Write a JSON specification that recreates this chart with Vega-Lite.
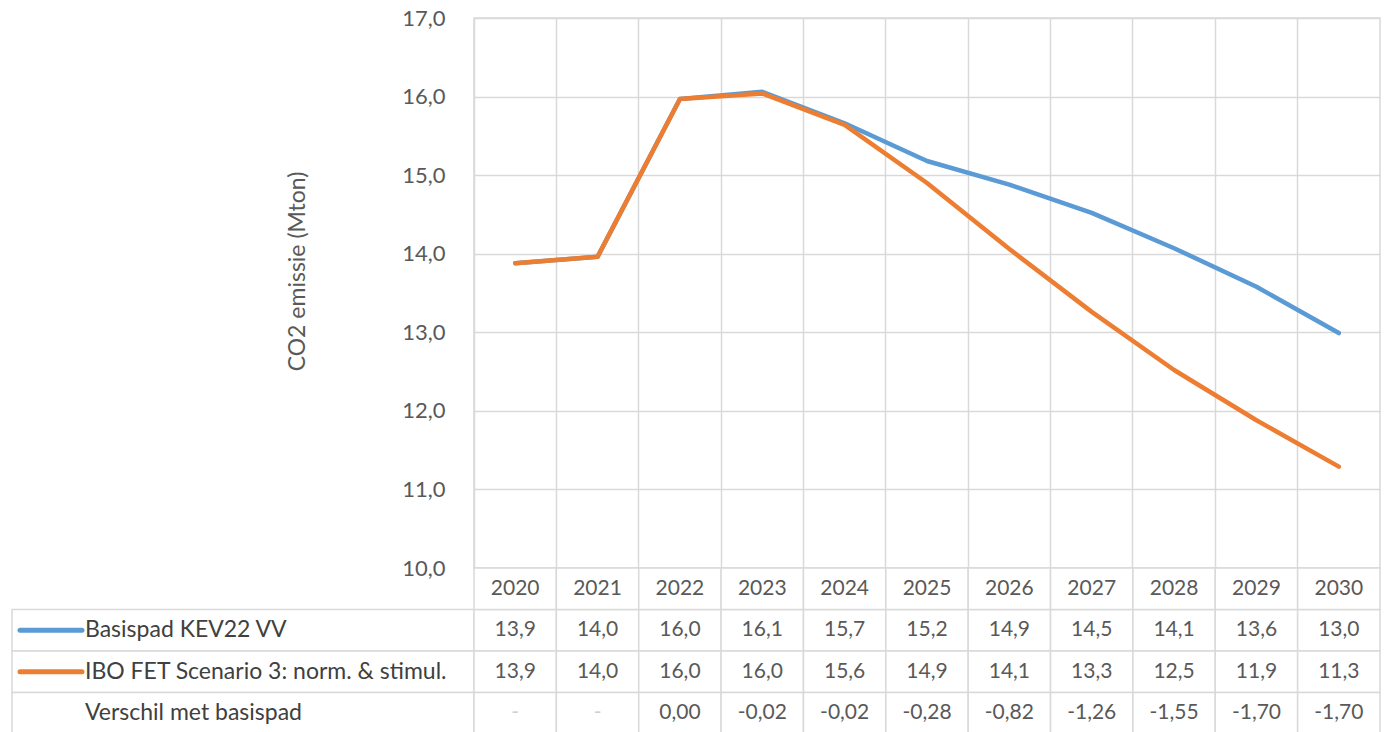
{
  "$schema": "https://vega.github.io/schema/vega-lite/v6.json",
  "padding": {"left": 10, "top": 6, "right": 0, "bottom": 0},
  "background": "white",
  "bounds": "flush",
  "spacing": 0,
  "columns": 2,
  "datasets": {
    "emissions": [
      {"year": "2020", "row": "Basispad KEV22 VV", "value": 13.88},
      {"year": "2021", "row": "Basispad KEV22 VV", "value": 13.96},
      {"year": "2022", "row": "Basispad KEV22 VV", "value": 15.97},
      {"year": "2023", "row": "Basispad KEV22 VV", "value": 16.06},
      {"year": "2024", "row": "Basispad KEV22 VV", "value": 15.66},
      {"year": "2025", "row": "Basispad KEV22 VV", "value": 15.18},
      {"year": "2026", "row": "Basispad KEV22 VV", "value": 14.88},
      {"year": "2027", "row": "Basispad KEV22 VV", "value": 14.52},
      {"year": "2028", "row": "Basispad KEV22 VV", "value": 14.07},
      {"year": "2029", "row": "Basispad KEV22 VV", "value": 13.58},
      {"year": "2030", "row": "Basispad KEV22 VV", "value": 12.99},
      {"year": "2020", "row": "IBO FET Scenario 3: norm. & stimul.", "value": 13.88},
      {"year": "2021", "row": "IBO FET Scenario 3: norm. & stimul.", "value": 13.96},
      {"year": "2022", "row": "IBO FET Scenario 3: norm. & stimul.", "value": 15.97},
      {"year": "2023", "row": "IBO FET Scenario 3: norm. & stimul.", "value": 16.04},
      {"year": "2024", "row": "IBO FET Scenario 3: norm. & stimul.", "value": 15.64},
      {"year": "2025", "row": "IBO FET Scenario 3: norm. & stimul.", "value": 14.90},
      {"year": "2026", "row": "IBO FET Scenario 3: norm. & stimul.", "value": 14.06},
      {"year": "2027", "row": "IBO FET Scenario 3: norm. & stimul.", "value": 13.26},
      {"year": "2028", "row": "IBO FET Scenario 3: norm. & stimul.", "value": 12.52},
      {"year": "2029", "row": "IBO FET Scenario 3: norm. & stimul.", "value": 11.88},
      {"year": "2030", "row": "IBO FET Scenario 3: norm. & stimul.", "value": 11.29},
      {"year": "2020", "row": "Verschil met basispad", "value": null},
      {"year": "2021", "row": "Verschil met basispad", "value": null},
      {"year": "2022", "row": "Verschil met basispad", "value": 0.00},
      {"year": "2023", "row": "Verschil met basispad", "value": -0.02},
      {"year": "2024", "row": "Verschil met basispad", "value": -0.02},
      {"year": "2025", "row": "Verschil met basispad", "value": -0.28},
      {"year": "2026", "row": "Verschil met basispad", "value": -0.82},
      {"year": "2027", "row": "Verschil met basispad", "value": -1.26},
      {"year": "2028", "row": "Verschil met basispad", "value": -1.55},
      {"year": "2029", "row": "Verschil met basispad", "value": -1.70},
      {"year": "2030", "row": "Verschil met basispad", "value": -1.70}
    ]
  },
  "concat": [
    {
      "width": 462,
      "height": 550,
      "data": {"values": [{}]},
      "mark": {"type": "text", "text": " "},
      "encoding": {}
    },
    {
      "width": 906,
      "height": 550,
      "view": {"stroke": "#d9d9d9", "strokeWidth": 1.5},
      "data": {"name": "emissions"},
      "transform": [{"filter": "datum.row != 'Verschil met basispad'"}],
      "mark": {"type": "line", "strokeWidth": 4.5, "strokeJoin": "round", "strokeCap": "round"},
      "encoding": {
        "x": {
          "field": "year", "type": "ordinal", "bandPosition": 0.5,
          "scale": {"type": "band", "paddingInner": 0, "paddingOuter": 0},
          "axis": {"labels": false, "ticks": false, "domain": false, "title": null, "grid": true, "bandPosition": 0, "gridColor": "#d9d9d9", "gridWidth": 1.5}
        },
        "y": {
          "field": "value", "type": "quantitative",
          "scale": {"domain": [10, 17], "zero": false, "nice": false},
          "axis": {
            "values": [10, 11, 12, 13, 14, 15, 16, 17],
            "format": ".1f",
            "grid": true, "gridColor": "#d9d9d9", "gridWidth": 1.5,
            "domain": false, "ticks": false,
            "labelPadding": 29, "labelFontSize": 22, "labelColor": "#595959", "labelFont": "Lato",
            "title": "CO2 emissie (Mton)",
            "titleFont": "Lato", "titleFontSize": 23, "titleFontWeight": "normal", "titleColor": "#595959",
            "titleAngle": 270, "titleAlign": "center", "titleBaseline": "middle",
            "titleX": -177, "titleY": 253
          }
        },
        "color": {
          "field": "row", "type": "nominal",
          "scale": {"domain": ["Basispad KEV22 VV", "IBO FET Scenario 3: norm. & stimul."], "range": ["#5b9bd5", "#ed7d31"]},
          "legend": null
        }
      }
    },
    {
      "width": 462,
      "height": 166,
      "data": {"name": "emissions"},
      "transform": [{"filter": "datum.year == '2020'"}],
      "encoding": {
        "y": {
          "field": "row", "type": "nominal",
          "scale": {"domain": ["Jaar", "Basispad KEV22 VV", "IBO FET Scenario 3: norm. & stimul.", "Verschil met basispad"], "paddingInner": 0, "paddingOuter": 0},
          "axis": null
        }
      },
      "layer": [
        {"mark": {"type": "rect", "fill": "white", "stroke": "#d9d9d9", "strokeWidth": 1.5}},
        {
          "transform": [{"filter": "datum.row != 'Verschil met basispad'"}],
          "mark": {"type": "point", "shape": "M-1,0L1,0", "size": 3844, "strokeWidth": 5, "strokeCap": "round", "filled": false, "opacity": 1},
          "encoding": {
            "x": {"datum": "symbol", "type": "nominal", "scale": {"type": "point", "domain": ["symbol", "label"], "range": [39, 73], "padding": 0}, "axis": null},
            "color": {
              "field": "row", "type": "nominal",
              "scale": {"domain": ["Basispad KEV22 VV", "IBO FET Scenario 3: norm. & stimul."], "range": ["#5b9bd5", "#ed7d31"]},
              "legend": null
            }
          }
        },
        {
          "mark": {"type": "text", "align": "left", "baseline": "middle", "font": "Lato", "fontSize": 23, "color": "#404040"},
          "encoding": {
            "x": {"datum": "label", "type": "nominal"},
            "text": {"field": "row", "type": "nominal"}
          }
        }
      ]
    },
    {
      "width": 906,
      "height": 166,
      "data": {"name": "emissions"},
      "encoding": {
        "x": {"field": "year", "type": "ordinal", "scale": {"type": "band", "paddingInner": 0, "paddingOuter": 0}, "axis": null},
        "y": {
          "field": "row", "type": "nominal",
          "scale": {"domain": ["Jaar", "Basispad KEV22 VV", "IBO FET Scenario 3: norm. & stimul.", "Verschil met basispad"], "paddingInner": 0, "paddingOuter": 0},
          "axis": null
        }
      },
      "layer": [
        {"mark": {"type": "rect", "fill": "white", "stroke": "#d9d9d9", "strokeWidth": 1.5}},
        {
          "transform": [{"filter": "datum.row == 'Basispad KEV22 VV'"}],
          "mark": {"type": "rect", "fill": "white", "stroke": "#d9d9d9", "strokeWidth": 1.5},
          "encoding": {"y": {"datum": "Jaar", "type": "nominal"}}
        },
        {
          "transform": [{"filter": "datum.row == 'Basispad KEV22 VV'"}],
          "mark": {"type": "text", "font": "Lato", "fontSize": 21, "color": "#595959"},
          "encoding": {"y": {"datum": "Jaar", "type": "nominal"}, "text": {"field": "year", "type": "nominal"}}
        },
        {
          "transform": [{"filter": "datum.row != 'Verschil met basispad'"}],
          "mark": {"type": "text", "font": "Lato", "fontSize": 21, "color": "#595959"},
          "encoding": {"text": {"field": "value", "type": "quantitative", "format": ".1f"}}
        },
        {
          "transform": [{"filter": "datum.row == 'Verschil met basispad' && datum.value != null"}],
          "mark": {"type": "text", "font": "Lato", "fontSize": 21, "color": "#595959"},
          "encoding": {"text": {"field": "value", "type": "quantitative", "format": ".2f"}}
        },
        {
          "transform": [{"filter": "datum.value == null"}],
          "mark": {"type": "text", "font": "Lato", "fontSize": 21, "color": "#d0d0d0"},
          "encoding": {"text": {"value": "-"}}
        }
      ]
    }
  ],
  "config": {
    "view": {"stroke": null},
    "font": "Lato",
    "locale": {
      "number": {"decimal": ",", "thousands": ".", "grouping": [3], "currency": ["€", ""], "minus": "-"}
    }
  }
}
